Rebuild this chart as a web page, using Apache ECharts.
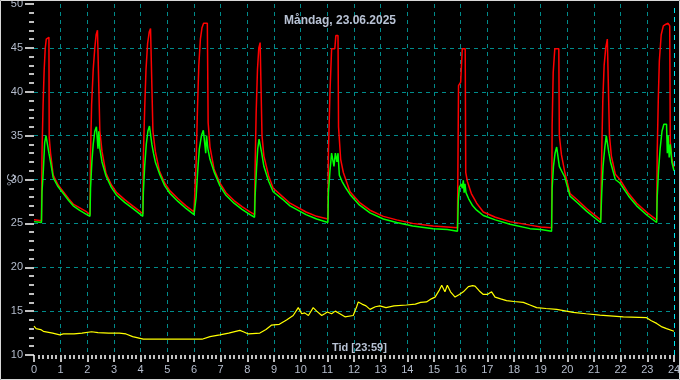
<!DOCTYPE html>
<html>
<head>
<meta charset="utf-8">
<script src="https://cdn.jsdelivr.net/npm/echarts@6/dist/echarts.min.js"></script>
<style>
html,body{margin:0;padding:0;background:#000;}
#c{width:680px;height:380px;}
</style>
</head>
<body>
<div id="c"></div>
<script>
// Time in hours, temperatures in °C
const xTicks = [0,1,2,3,4,5,6,7,8,9,10,11,12,13,14,15,16,17,18,19,20,21,22,23,24];
const yTicks = [10,15,20,25,30,35,40,45,50];

const redT = [
0.00,0.28,0.30,0.34,0.38,0.42,0.46,0.52,0.56,0.57,0.62,0.72,0.90,1.10,1.30,1.47,1.70,1.98,2.10,
2.12,2.16,2.22,2.28,2.33,2.38,2.45,2.47,2.55,2.70,2.90,3.10,3.40,3.70,4.00,4.08,
4.10,4.15,4.20,4.26,4.32,4.37,4.44,4.46,4.55,4.70,4.90,5.10,5.40,5.70,6.00,6.06,
6.08,6.13,6.18,6.24,6.30,6.36,6.42,6.50,6.53,6.60,6.75,6.97,7.20,7.50,7.80,8.10,8.27,
8.29,8.33,8.38,8.43,8.48,8.53,8.55,8.62,8.80,8.97,9.30,9.60,10.20,10.60,11.02,
11.04,11.10,11.16,11.28,11.32,11.40,11.42,11.50,11.60,11.85,12.20,12.60,13.10,13.60,14.20,14.97,15.50,15.88,
15.91,15.92,16.00,16.05,16.06,16.17,16.19,16.25,16.40,16.60,16.85,17.30,17.85,18.60,19.00,19.41,
19.43,19.47,19.53,19.60,19.68,19.70,19.78,19.90,20.10,20.40,20.72,21.00,21.25,
21.29,21.33,21.38,21.44,21.50,21.56,21.58,21.65,21.80,21.97,22.30,22.60,23.00,23.35,
23.37,23.41,23.45,23.52,23.60,23.70,23.78,23.84,23.86,23.92,24.00
];
const redV = [
25.4,25.3,33.0,38.4,42.4,44.9,46.0,46.2,46.2,34.8,33.0,30.5,29.4,28.6,27.8,27.2,26.8,26.3,26.0,
33.0,38.5,42.5,45.0,46.5,47.0,47.0,35.5,33.2,30.7,29.4,28.5,27.7,27.0,26.3,26.1,
32.5,38.0,42.5,45.5,46.8,47.2,47.0,35.5,33.2,31.0,29.6,28.7,27.8,27.0,26.3,26.1,
32.0,38.0,43.0,46.0,47.3,47.8,48.0,47.8,36.5,33.7,31.2,29.6,28.5,27.6,26.9,26.3,26.0,
31.0,37.5,42.5,45.0,45.6,45.6,35.0,32.7,30.4,29.0,28.1,27.3,26.3,25.8,25.5,
33.0,40.0,44.9,44.9,46.4,46.4,36.0,32.3,30.8,28.6,27.4,26.5,25.8,25.4,25.0,24.7,24.6,24.5,
24.5,40.7,41.1,41.1,44.9,44.9,30.8,29.8,28.4,27.3,26.3,25.7,25.2,24.8,24.6,24.5,
36.1,42.2,44.9,44.9,44.9,35.0,32.8,30.9,28.4,27.6,26.7,26.0,25.4,
33.0,39.0,43.0,45.0,46.0,46.0,35.0,32.7,30.6,30.0,28.4,27.3,26.2,25.4,
33.0,39.0,43.5,46.5,47.5,47.7,47.8,47.5,34.3,32.3,31.4
];

const greenT = [
0.00,0.28,0.30,0.35,0.40,0.45,0.52,0.56,0.62,0.72,0.90,1.10,1.30,1.47,1.70,1.98,2.10,
2.12,2.17,2.22,2.28,2.34,2.38,2.40,2.43,2.47,2.55,2.70,2.90,3.10,3.40,3.70,4.00,4.08,
4.10,4.15,4.21,4.27,4.33,4.38,4.42,4.48,4.55,4.70,4.90,5.10,5.40,5.70,6.00,6.06,
6.08,6.14,6.20,6.28,6.35,6.41,6.44,6.47,6.52,6.60,6.75,6.97,7.20,7.50,7.80,8.10,8.27,
8.29,8.34,8.39,8.44,8.50,8.54,8.62,8.80,8.97,9.30,9.60,10.20,10.60,11.02,
11.04,11.10,11.16,11.22,11.25,11.30,11.36,11.40,11.45,11.55,11.70,11.85,12.20,12.60,13.10,13.60,14.20,14.97,15.50,15.88,
15.91,15.95,16.02,16.06,16.10,16.13,16.16,16.20,16.30,16.45,16.60,16.85,17.30,17.85,18.60,19.00,19.41,
19.43,19.48,19.54,19.60,19.66,19.70,19.78,19.90,20.10,20.40,20.72,21.00,21.25,
21.29,21.34,21.40,21.46,21.52,21.56,21.62,21.80,21.97,22.30,22.60,23.00,23.35,
23.37,23.42,23.48,23.55,23.62,23.72,23.75,23.78,23.82,23.86,23.92,24.00
];
const greenV = [
25.2,25.1,28.6,31.0,34.2,35.0,35.0,33.0,32.0,30.2,29.2,28.4,27.6,27.0,26.5,26.0,25.8,
29.0,32.0,34.0,35.5,36.0,36.0,33.5,35.5,33.5,32.0,30.4,29.1,28.2,27.4,26.7,26.0,25.8,
28.5,31.5,34.0,35.5,36.1,36.1,34.0,33.0,32.0,30.7,29.3,28.4,27.5,26.7,26.0,25.8,
28.0,31.0,33.5,35.0,35.6,35.6,33.0,35.0,33.5,32.3,30.9,29.3,28.2,27.3,26.6,26.0,25.7,
28.0,31.0,33.5,34.6,34.6,33.0,31.5,29.8,28.6,27.8,27.0,26.0,25.5,25.1,
28.5,31.0,33.0,33.0,31.5,33.0,32.0,33.0,30.5,29.8,29.0,28.3,27.1,26.2,25.5,25.1,24.7,24.4,24.3,24.1,
27.5,29.1,29.5,29.0,29.9,28.5,29.5,28.5,27.8,27.0,26.5,25.9,25.4,24.9,24.4,24.3,24.1,
29.0,31.5,33.0,33.7,33.5,31.5,31.0,30.3,28.1,27.3,26.4,25.7,25.1,
28.5,31.5,33.5,35.0,35.0,33.0,32.0,30.0,29.6,28.1,27.0,25.9,25.1,
28.0,31.0,33.5,35.5,36.3,36.3,33.0,35.0,32.5,34.0,32.0,31.0
];

const yellowT = [
0.00,0.08,0.25,0.35,0.70,0.97,1.10,1.50,1.80,2.16,2.40,2.80,3.20,3.45,3.70,4.10,5.00,5.73,6.30,6.60,6.97,7.30,7.72,7.85,8.04,8.47,8.70,8.90,9.20,9.47,9.72,9.91,10.04,10.15,10.29,10.47,10.60,10.79,10.90,11.00,11.16,11.30,11.47,11.66,11.97,12.10,12.16,12.30,12.45,12.60,12.80,12.97,13.20,13.50,13.97,14.30,14.50,14.72,14.90,15.04,15.20,15.29,15.41,15.50,15.62,15.79,15.95,16.10,16.29,16.45,16.54,16.70,16.85,17.00,17.16,17.29,17.50,17.72,18.00,18.35,18.60,18.85,19.20,19.60,20.22,20.70,21.22,22.10,22.97,23.15,23.35,23.55,23.72,24.00
];
const yellowV = [
13.3,13.0,12.9,12.7,12.5,12.3,12.4,12.4,12.5,12.65,12.55,12.5,12.5,12.4,12.1,11.8,11.8,11.8,11.8,12.1,12.3,12.5,12.8,12.65,12.4,12.5,12.9,13.4,13.5,14.0,14.5,15.4,14.7,14.8,14.5,15.4,15.0,14.5,14.7,14.9,14.7,15.0,14.7,14.35,14.5,15.5,16.05,15.8,15.6,15.2,15.5,15.6,15.4,15.6,15.7,15.8,16.0,16.05,16.4,16.6,17.4,17.95,17.2,17.95,17.2,16.6,16.9,17.2,17.8,17.9,17.85,17.3,16.9,16.9,17.2,16.6,16.4,16.2,16.1,16.0,15.7,15.4,15.3,15.2,14.85,14.7,14.55,14.35,14.25,13.9,13.6,13.2,13.0,12.7
];

function zip(t, v){ return t.map((x,i)=>[x, v[i]]); }

const labelColor = '#b4bccc';
const gridColor = '#008b8b';
const tickColor = '#ffffff';

const chart = echarts.init(document.getElementById('c'));
chart.setOption({
  backgroundColor: '#000',
  animation: false,
  title: {
    text: 'Måndag, 23.06.2025',
    left: 'center',
    top: 10,
    textStyle: {color: '#b8c2d4', fontSize: 12, fontWeight: 'bold', fontFamily: 'Liberation Sans'}
  },
  grid: {left: 34, right: 6, top: 4, bottom: 25, outerBoundsMode: 'none'},
  xAxis: {
    type: 'value', min: 0, max: 24, interval: 1,
    axisLine: {show: false},
    axisTick: {show: true, length: 7, lineStyle: {color: tickColor, width: 1.5}},
    minorTick: {show: true, splitNumber: 6, length: 4, lineStyle: {color: tickColor, width: 1.5}},
    axisLabel: {color: labelColor, fontSize: 11, margin: 9, fontFamily: 'Liberation Sans',
      formatter: v => xTicks.includes(v) ? String(v) : ''},
    splitLine: {show: true, showMinLine: false, showMaxLine: false, lineStyle: {color: gridColor, type: [4,4], width: 1}}
  },
  yAxis: {
    type: 'value', min: 10, max: 50, interval: 5,
    axisLine: {show: false},
    axisTick: {show: true, length: 9, lineStyle: {color: tickColor, width: 1.5}},
    minorTick: {show: true, splitNumber: 5, length: 5, lineStyle: {color: tickColor, width: 1.5}},
    axisLabel: {color: labelColor, fontSize: 11, margin: 11, fontFamily: 'Liberation Sans',
      formatter: v => yTicks.includes(v) ? String(v) : ''},
    splitLine: {show: true, showMinLine: false, showMaxLine: false, lineStyle: {color: gridColor, type: [4,4], width: 1}}
  },
  graphic: [
    {type: 'text', left: 332, top: 342, style: {text: 'Tid [23:59]', fill: '#b8c2d4', font: 'bold 11px "Liberation Sans"'}, z: 10},
    {type: 'text', x: 6, y: 186, rotation: Math.PI / 2, style: {text: '°C', fill: labelColor, font: '11px "Liberation Sans"'}, z: 10},
    {type: 'rect', shape: {x: 0.5, y: 0.5, width: 679, height: 379}, style: {fill: 'none', stroke: '#d8d8d8', lineWidth: 1}, z: 10}
  ],
  series: [
    {type: 'line', name: 'red', data: zip(redT, redV), showSymbol: false, lineStyle: {color: '#ff0000', width: 1.5}, itemStyle:{color:'#ff0000'}, z: 3,
      markLine: {silent: true, symbol: 'none', label: {show: false},
        lineStyle: {color: '#00e5ee', type: [5,4], width: 1}, data: [{xAxis: 24}]}},
    {type: 'line', name: 'green', data: zip(greenT, greenV), showSymbol: false, lineStyle: {color: '#00ff00', width: 1.5}, itemStyle:{color:'#00ff00'}, z: 4},
    {type: 'line', name: 'yellow', data: zip(yellowT, yellowV), showSymbol: false, lineStyle: {color: '#ffff00', width: 1.2}, itemStyle:{color:'#ffff00'}, z: 5}
  ]
});
</script>
</body>
</html>
